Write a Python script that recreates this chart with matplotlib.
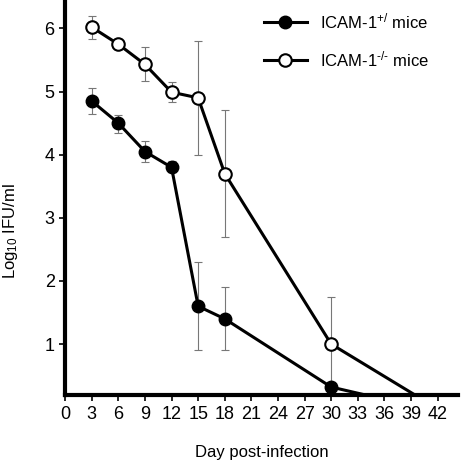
import matplotlib
matplotlib.use("Agg")
import matplotlib.pyplot as plt
from matplotlib.lines import Line2D

plt.rcParams['font.family'] = ['Liberation Sans', 'DejaVu Sans']
plt.rcParams['mathtext.fontset'] = 'custom'
plt.rcParams['mathtext.rm'] = 'Liberation Sans'
plt.rcParams['mathtext.it'] = 'Liberation Sans:italic'

days_pos = [3, 6, 9, 12, 15, 18, 30, 34]
vals_pos = [4.85, 4.5, 4.05, 3.8, 1.6, 1.4, 0.32, 0.19]
err_lo_pos = [0.2, 0.15, 0.17, 0.08, 0.7, 0.5, 0.0, 0.0]
err_hi_pos = [0.2, 0.13, 0.17, 0.1, 0.7, 0.5, 0.0, 0.0]

days_neg = [3, 6, 9, 12, 15, 18, 30, 39.5]
vals_neg = [6.02, 5.75, 5.43, 4.99, 4.9, 3.7, 1.0, 0.19]
err_lo_neg = [0.18, 0.07, 0.26, 0.16, 0.9, 1.0, 0.75, 0.0]
err_hi_neg = [0.18, 0.05, 0.27, 0.16, 0.9, 1.0, 0.75, 0.0]

xticks = list(range(0, 43, 3))
yticks = [1, 2, 3, 4, 5, 6]
labels = [r"ICAM-1$^{\mathrm{+/}}$ mice", r"ICAM-1$^{\text{-/-}}$ mice"]

fig = plt.figure(figsize=(4.65, 4.65), dpi=100)
ax = fig.add_axes([0.14, 0.15, 0.845, 0.85])

n = 7
ax.errorbar(days_pos[:n], vals_pos[:n], yerr=[err_lo_pos[:n], err_hi_pos[:n]],
            fmt='none', ecolor='#777777', elinewidth=0.8, capsize=3, capthick=0.8, zorder=1)
ax.errorbar(days_neg[:n], vals_neg[:n], yerr=[err_lo_neg[:n], err_hi_neg[:n]],
            fmt='none', ecolor='#777777', elinewidth=0.8, capsize=3, capthick=0.8, zorder=1)

ax.plot(days_pos, vals_pos, color='black', lw=2.2, zorder=2)
ax.plot(days_pos[:n], vals_pos[:n], 'o', color='black', ms=9, zorder=3)
ax.plot(days_neg, vals_neg, color='black', lw=2.2, zorder=2)
ax.plot(days_neg[:n], vals_neg[:n], 'o', mfc='white', mec='black', mew=1.5, ms=9, zorder=3)

ax.set_xlim(0, 44.3)
ax.set_ylim(0.19, 6.45)
ax.set_xticks(xticks)
ax.set_yticks(yticks)
ax.tick_params(labelsize=13, width=1.2, length=4)
for s in ['top', 'right']:
    ax.spines[s].set_visible(False)
ax.spines['left'].set_linewidth(3)
ax.spines['bottom'].set_linewidth(3)

ax.set_ylabel("Log$_{10}$ IFU/ml", fontsize=12)
ax.yaxis.set_label_coords(-0.115, 0.415)
ax.set_xlabel("Day post-infection", fontsize=12, labelpad=16)

h1 = Line2D([], [], color='black', lw=2.2, marker='o', ms=9)
h2 = Line2D([], [], color='black', lw=2.2, marker='o', mfc='white', mec='black', mew=1.5, ms=9)
ax.legend([h1, h2], labels, loc='upper right', frameon=False, fontsize=12,
          bbox_to_anchor=(0.965, 1.01), handlelength=2.6, labelspacing=1.1, handletextpad=0.8)

fig.savefig("out.png", dpi=100)
